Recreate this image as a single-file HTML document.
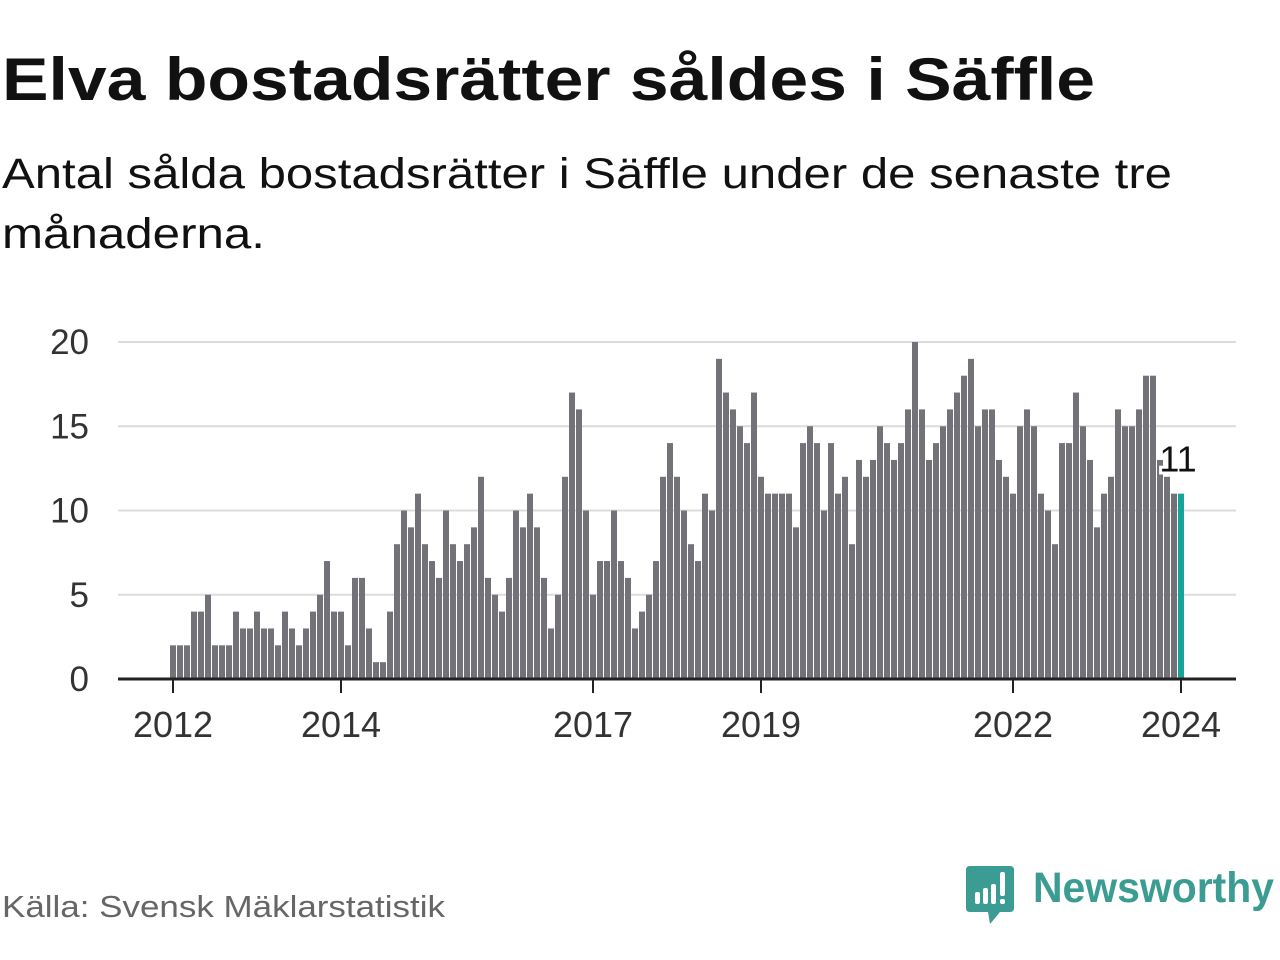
<!DOCTYPE html>
<html><head><meta charset="utf-8"><style>
body{margin:0;width:1280px;height:960px;background:#fff;overflow:hidden;font-family:"Liberation Sans",sans-serif;}
</style></head><body>
<svg width="1280" height="960" viewBox="0 0 1280 960" style="position:absolute;left:0;top:0">
<text x="2" y="100" font-size="60" font-weight="bold" fill="#111" textLength="1093" lengthAdjust="spacingAndGlyphs">Elva bostadsrätter såldes i Säffle</text>
<text x="2" y="188" font-size="43" fill="#111" textLength="1170" lengthAdjust="spacingAndGlyphs">Antal sålda bostadsrätter i Säffle under de senaste tre</text>
<text x="2" y="248" font-size="43" fill="#111" textLength="263" lengthAdjust="spacingAndGlyphs">månaderna.</text>
<g id="grid"></g>
<g id="ylabels"></g>
<g id="bars"></g>
<line x1="118" y1="679" x2="1236" y2="679" stroke="#222" stroke-width="3"/>
<g id="xlabels"></g>
<text id="lastlabel" font-size="36" fill="#111" stroke="#fff" stroke-width="6" paint-order="stroke" text-anchor="middle"></text>
<text x="2" y="917" font-size="31" fill="#666" textLength="443" lengthAdjust="spacingAndGlyphs">Källa: Svensk Mäklarstatistik</text>
<g>
<path d="M970 866 H1010 Q1014 866 1014 870 V908 Q1014 912 1010 912 H1000 L990 924 L988 912 H970 Q966 912 966 908 V870 Q966 866 970 866 Z" fill="#3a9c92"/>
<rect x="975" y="892" width="5" height="12" rx="2" fill="#fff"/>
<rect x="983" y="888" width="5" height="16" rx="2" fill="#fff"/>
<rect x="991" y="884" width="5" height="20" rx="2" fill="#fff"/>
<rect x="1000" y="872" width="5" height="24" rx="2" fill="#fff"/>
<rect x="1000" y="899" width="5" height="5" rx="2" fill="#fff"/>
<text x="1033" y="902" font-size="43" font-weight="bold" fill="#3a9c92" textLength="241" lengthAdjust="spacingAndGlyphs">Newsworthy</text>
</g>
</svg>
<script>
const values=[2,2,2,4,4,5,2,2,2,4,3,3, 4,3,3,2,4,3,2,3,4,5,7,4,
4,2,6,6,3,1,1,4,8,10,9,11, 8,7,6,10,8,7,8,9,12,6,5,4,
6,10,9,11,9,6,3,5,12,17,16,10, 5,7,7,10,7,6,3,4,5,7,12,14,
12,10,8,7,11,10,19,17,16,15,14,17, 12,11,11,11,11,9,14,15,14,10,14,11,
12,8,13,12,13,15,14,13,14,16,20,16, 13,14,15,16,17,18,19,15,16,16,13,12,
11,15,16,15,11,10,8,14,14,17,15,13, 9,11,12,16,15,15,16,18,18,13,12,11,11];
const startYear=2012;
const yTicks=[0,5,10,15,20];
const xTickYears=[2012,2014,2017,2019,2022,2024];
const NS="http://www.w3.org/2000/svg";
const x=i=>173+i*7;
const y=v=>679-v*16.85;
function mk(t,a){const e=document.createElementNS(NS,t);for(const k in a)e.setAttribute(k,a[k]);return e;}
const grid=document.getElementById('grid'),yl=document.getElementById('ylabels');
yTicks.forEach(t=>{
  if(t>0){const l=mk('line',{x1:118,x2:1236,y1:y(t),y2:y(t),stroke:'#dcdcdc','stroke-width':2});
  
  
  grid.appendChild(l);}
  const tx=mk('text',{x:89,y:y(t)+12,'font-size':35,fill:'#333','text-anchor':'end'});
  
  
  tx.textContent=t;yl.appendChild(tx);
});
const bars=document.getElementById('bars');
values.forEach((v,i)=>{
  const last=i===values.length-1;
  const r=mk('rect',{x:x(i)-3,y:y(v),width:6,height:679-y(v),fill:last?'#15a39a':'#737278'});
  
  
  bars.appendChild(r);
});
const xl=document.getElementById('xlabels');
xTickYears.forEach(yr=>{
  const i=(yr-startYear)*12;
  const tk=mk('line',{x1:x(i),x2:x(i),y1:679,y2:693,stroke:'#222','stroke-width':2});
  
  
  xl.appendChild(tk);
  const t=mk('text',{x:x(i),y:737,'font-size':36,fill:'#333','text-anchor':'middle'});
  
  
  t.textContent=yr;xl.appendChild(t);
});
const li=values.length-1,ll=document.getElementById('lastlabel');
ll.setAttribute('x',x(li)-3);ll.setAttribute('y',y(values[li])-22);
ll.textContent=values[li];
</script>
</body></html>
